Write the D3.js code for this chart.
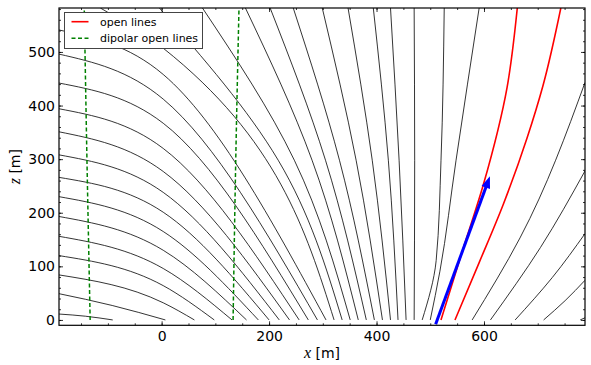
<!DOCTYPE html>
<html>
<head>
<meta charset="utf-8">
<script src="https://cdn.jsdelivr.net/npm/d3@7"></script>
<style>
  body { margin: 0; background: #fff; }
  text { font-family: "DejaVu Sans", sans-serif; }
</style>
</head>
<body>
<script>
var w = 591;
var h = 365;
var margin = {left: 59, right: 6, top: 8, bottom: 40};

// axis limits and ticks (m)
var xDomain = [-191, 788];
var zDomain = [-10, 582];
var xMajor = [0, 200, 400, 600];
var xMinor = d3.range(-150, 788, 50);
var zMajor = [0, 100, 200, 300, 400, 500];
var zMinor = d3.range(0, 582, 20);

// field lines entering through the left edge, ending on the ground (x, z)
var leftLines = [
  [[-191, 11], [-142, 7], [-91, 0]],
  [[-191, 49], [-92, 27], [7, 0]],
  [[-191, 84], [3, 32], [61, 0]],
  [[-191, 120], [3, 64], [98, 0]],
  [[-191, 156], [3, 96], [131, 0]],
  [[-191, 193], [3, 130], [158, 0]],
  [[-191, 230], [3, 165], [180, 0]],
  [[-191, 266], [3, 201], [200, 0]],
  [[-191, 308], [3, 238], [219, 0]],
  [[-191, 351], [3, 277], [238, 0]],
  [[-191, 394], [3, 320], [256, 0]],
  [[-191, 442], [3, 367], [273, 0]],
  [[-191, 496], [3, 412], [290, 0]],
  [[-191, 541], [3, 458], [306, 0]]
];

// field lines coming in through the top edge
var topLines = [
  [[-114, 582], [3, 507], [321, 0]],
  [[-4, 582], [217, 298], [336, 0]],
  [[76, 582], [247, 298], [351, 0]],
  [[156, 582], [280, 298], [366, 0]],
  [[202, 582], [305, 298], [381, 0]],
  [[245, 582], [331, 298], [396, 0]],
  [[299, 582], [362, 298], [411, 0]],
  [[347, 582], [392, 298], [426, 0]],
  [[394, 582], [422, 298], [440, 0]],
  [[426, 582], [442, 298], [455, 0]],
  [[470, 582], [471, 298], [470, 0]],
  [[526, 582], [520, 298], [511, 111], [485, 0]],
  [[591, 582], [548, 298], [518, 91], [500, 0]]
];

// lines leaving through the right edge
var rightLines = [
  [[578, 0], [667, 153], [788, 443]],
  [[612, 0], [705, 135], [788, 278]],
  [[658, 0], [727, 79], [788, 161]],
  [[711, 0], [751, 36], [788, 74]],
  [[779, 0], [788, 4]]
];

var openLines = [
  [[520, 0], [559, 126], [599, 253], [643, 434], [662, 582]],
  [[546, 0], [591, 107], [636, 216], [680, 339], [710, 438], [743, 582]]
];

var dipolarLines = [
  [[-133, 0], [-139, 300], [-144, 582]],
  [[133, 0], [138, 300], [144, 582]]
];

var arrowFrom = [510, -8];
var arrowTo = [611, 268];

var legendItems = ["open lines", "dipolar open lines"];

window.onload = function() {
  var svg = d3.select("body").append("svg")
      .attr("width", w)
      .attr("height", h);

  var x = d3.scaleLinear().domain(xDomain).range([margin.left, w - margin.right]);
  var y = d3.scaleLinear().domain(zDomain).range([h - margin.bottom + 0.3, margin.top]);

  svg.append("defs").append("clipPath").attr("id", "plotclip")
     .append("rect")
     .attr("x", x(xDomain[0])).attr("y", y(zDomain[1]))
     .attr("width", x(xDomain[1]) - x(xDomain[0]))
     .attr("height", y(zDomain[0]) - y(zDomain[1]));

  // left lines are smooth in x, the others in z
  var lineX = d3.line()
      .x(function(d) { return x(d[0]); })
      .y(function(d) { return y(d[1]); })
      .curve(d3.curveMonotoneX);
  var lineY = d3.line()
      .x(function(d) { return x(d[0]); })
      .y(function(d) { return y(d[1]); })
      .curve(d3.curveMonotoneY);

  var plot = svg.append("g").attr("clip-path", "url(#plotclip)");

  // black field lines
  plot.selectAll(".fieldL")
      .data(leftLines)
      .enter().append("path")
      .attr("class", "fieldL")
      .attr("d", lineX);
  plot.selectAll(".fieldT")
      .data(topLines.concat(rightLines))
      .enter().append("path")
      .attr("class", "fieldT")
      .attr("d", lineY);
  plot.selectAll(".fieldL, .fieldT")
      .attr("fill", "none")
      .attr("stroke", "#111")
      .attr("stroke-width", 0.85);

  plot.selectAll(".dipolar")
      .data(dipolarLines)
      .enter().append("path")
      .attr("class", "dipolar")
      .attr("d", lineY)
      .attr("fill", "none")
      .attr("stroke", "#008000")
      .attr("stroke-width", 1.5)
      .attr("stroke-dasharray", "4,2.5");

  plot.selectAll(".open")
      .data(openLines)
      .enter().append("path")
      .attr("class", "open")
      .attr("d", lineY)
      .attr("fill", "none")
      .attr("stroke", "#ff0000")
      .attr("stroke-width", 1.6);

  drawArrow(plot, x, y);
  drawAxes(svg, x, y);
  drawLegend(svg);
};

function drawArrow(g, x, y) {
  // blue arrow with a filled head
  var x0 = x(arrowFrom[0]), y0 = y(arrowFrom[1]);
  var x1 = x(arrowTo[0]), y1 = y(arrowTo[1]);
  var len = Math.hypot(x1 - x0, y1 - y0);
  var ux = (x1 - x0) / len, uy = (y1 - y0) / len;
  var headL = 12, headW = 4.5;
  var bx = x1 - ux * headL, by = y1 - uy * headL;

  g.append("line")
   .attr("x1", x0).attr("y1", y0)
   .attr("x2", bx + ux * 1).attr("y2", by + uy * 1)
   .attr("stroke", "#0000ff")
   .attr("stroke-width", 3);

  g.append("path")
   .attr("d", "M" + x1 + "," + y1 +
              "L" + (bx - uy * headW) + "," + (by + ux * headW) +
              "L" + (bx + uy * headW) + "," + (by - ux * headW) + "Z")
   .attr("fill", "#0000ff");
}

function drawAxes(svg, x, y) {
  var x0 = x.range()[0], x1 = x.range()[1];
  var y0 = y.range()[0], y1 = y.range()[1];

  // ticks point inwards on all four sides
  svg.append("g").attr("transform", "translate(0," + y0 + ")")
     .call(d3.axisBottom(x).tickValues(xMinor).tickSize(-2).tickFormat(""));
  svg.append("g").attr("transform", "translate(0," + y0 + ")")
     .call(d3.axisBottom(x).tickValues(xMajor).tickSize(-4).tickPadding(6))
     .attr("class", "xaxis");
  svg.append("g").attr("transform", "translate(0," + y1 + ")")
     .call(d3.axisTop(x).tickValues(xMinor).tickSize(-2).tickFormat(""));
  svg.append("g").attr("transform", "translate(0," + y1 + ")")
     .call(d3.axisTop(x).tickValues(xMajor).tickSize(-4).tickFormat(""));

  svg.append("g").attr("transform", "translate(" + x0 + ",0)")
     .call(d3.axisLeft(y).tickValues(zMinor).tickSize(-2).tickFormat(""));
  svg.append("g").attr("transform", "translate(" + x0 + ",0)")
     .call(d3.axisLeft(y).tickValues(zMajor).tickSize(-4).tickPadding(4))
     .attr("class", "yaxis");
  svg.append("g").attr("transform", "translate(" + x1 + ",0)")
     .call(d3.axisRight(y).tickValues(zMinor).tickSize(-2).tickFormat(""));
  svg.append("g").attr("transform", "translate(" + x1 + ",0)")
     .call(d3.axisRight(y).tickValues(zMajor).tickSize(-4).tickFormat(""));

  svg.selectAll(".domain").remove();
  svg.selectAll(".tick line").attr("stroke", "#000").attr("stroke-width", 0.8);
  svg.selectAll(".xaxis text, .yaxis text")
     .style("font-family", "'DejaVu Sans', sans-serif")
     .style("font-size", "14px")
     .attr("fill", "#000");

  // frame
  svg.append("rect")
     .attr("x", x0).attr("y", y1)
     .attr("width", x1 - x0).attr("height", y0 - y1)
     .attr("fill", "none")
     .attr("stroke", "#000")
     .attr("stroke-width", 1.2);

  // axis labels
  var xl = svg.append("text")
     .attr("x", (x0 + x1) / 2)
     .attr("y", 358)
     .attr("text-anchor", "middle")
     .style("font-size", "14px");
  xl.append("tspan").text("x")
    .style("font-family", "'Liberation Serif', serif")
    .style("font-style", "italic").style("font-size", "16px");
  xl.append("tspan").text(" [m]");

  var zl = svg.append("text")
     .attr("transform", "translate(20," + ((y0 + y1) / 2) + ") rotate(-90)")
     .attr("text-anchor", "middle")
     .style("font-size", "14px");
  zl.append("tspan").text("z")
    .style("font-family", "'Liberation Serif', serif")
    .style("font-style", "italic").style("font-size", "16px");
  zl.append("tspan").text(" [m]");
}

function drawLegend(svg) {
  var g = svg.append("g").attr("transform", "translate(64.5,12.5)");

  g.append("rect")
   .attr("width", 138).attr("height", 36)
   .attr("fill", "#fff")
   .attr("stroke", "#444")
   .attr("stroke-width", 1);

  var styles = [
    {color: "#ff0000", dash: null, width: 1.6},
    {color: "#008000", dash: "4,2.5", width: 1.5}
  ];

  legendItems.forEach(function(label, i) {
    var ly = 9.2 + i * 16.6;
    g.append("line")
     .attr("x1", 7).attr("x2", 24)
     .attr("y1", ly).attr("y2", ly)
     .attr("stroke", styles[i].color)
     .attr("stroke-width", styles[i].width)
     .attr("stroke-dasharray", styles[i].dash);
    g.append("text")
     .attr("x", 35.5).attr("y", ly)
     .attr("dy", "0.35em")
     .style("font-size", "11px")
     .text(label);
  });
}
</script>
</body>
</html>
